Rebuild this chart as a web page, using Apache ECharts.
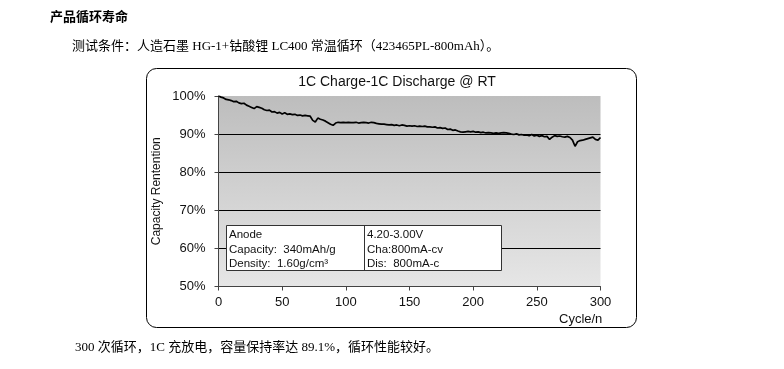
<!DOCTYPE html>
<html>
<head>
<meta charset="utf-8">
<script src="https://cdn.jsdelivr.net/npm/echarts@6/dist/echarts.min.js"></script>
<style>
html,body{margin:0;padding:0;background:#fff;}
#c{width:784px;height:369px;}
</style>
</head>
<body>
<div id="c"></div>
<script>
// ---- data ----
const cycles = [0,2,4,6,8,10,12,14,16,18,20,22,24,26,28,30,32,34,36,38,40,42,44,46,48,50,52,54,56,58,60,62,64,66,68,70,72,74,76,78,80,82,84,86,88,90,92,94,96,98,100,102,104,106,108,110,112,114,116,118,120,122,124,126,128,130,132,134,136,138,140,142,144,146,148,150,152,154,156,158,160,162,164,166,168,170,172,174,176,178,180,182,184,186,188,190,192,194,196,198,200,202,204,206,208,210,212,214,216,218,220,222,224,226,228,230,232,234,236,238,240,242,244,246,248,250,252,254,256,258,260,262,264,266,268,270,272,274,276,278,280,282,284,286,288,290,292,294,296,298,300];
const retention = [100.0,99.7,99.5,99.1,99.0,98.8,98.5,98.6,98.2,98.0,98.1,97.6,97.3,97.0,96.7,97.2,97.0,96.8,96.4,96.2,96.3,95.8,95.9,95.5,95.7,95.3,95.6,95.2,95.3,95.1,95.2,94.9,95.0,94.8,94.9,94.8,94.7,93.6,93.2,94.2,93.9,93.7,93.4,93.0,92.6,92.3,92.9,93.1,93.0,93.1,93.0,93.1,93.0,93.0,93.1,92.9,93.0,93.1,93.0,92.9,93.1,93.0,92.8,92.7,92.6,92.6,92.5,92.4,92.5,92.3,92.4,92.2,92.4,92.3,92.1,92.2,92.1,92.2,92.0,92.1,92.0,92.1,91.9,91.9,91.8,91.9,91.6,91.7,91.5,91.6,91.2,91.3,91.0,91.1,90.8,90.6,90.5,90.6,90.7,90.6,90.7,90.5,90.6,90.4,90.5,90.3,90.4,90.3,90.2,90.3,90.2,90.3,90.4,90.3,90.2,90.0,89.9,90.1,89.8,89.9,89.7,89.8,89.6,89.9,89.5,89.7,89.4,89.6,89.3,89.4,88.6,89.2,89.6,89.4,89.5,89.3,89.2,89.4,89.1,88.4,86.8,88.0,88.3,88.4,88.6,88.8,89.0,89.2,88.6,88.4,89.1];
const xTicks = {min: 0, max: 300, interval: 50};
const yTicks = {min: 50, max: 100, interval: 10};
const chartTitle = '1C Charge-1C Discharge @ RT';
const yName = 'Capacity Rentention';
const xName = 'Cycle/n';
const heading = '产品循环寿命';
const condition = '测试条件：人造石墨 HG-1+钴酸锂 LC400 常温循环（423465PL-800mAh）。';
const summary = '300 次循环，1C 充放电，容量保持率达 89.1%，循环性能较好。';
const boxLeft = ['Anode', 'Capacity:  340mAh/g', 'Density:  1.60g/cm³'];
const boxRight = ['4.20-3.00V', 'Cha:800mA-cv', 'Dis:  800mA-c'];

const seriesData = cycles.map((c, i) => [c, retention[i]]);

const chart = echarts.init(document.getElementById('c'), null, {renderer: 'canvas'});
const sansL = 'Liberation Sans, Arial, sans-serif';
const docFont = '"Liberation Serif", "Noto Sans CJK SC", serif';

const textLine = (x, y, arr) => arr.map((t, i) => ({
  type: 'text', left: x, top: y + i * 14.5, z: 101,
  style: {text: t, font: '11.5px ' + sansL, fill: '#111'}
}));

chart.setOption({
  animation: false,
  backgroundColor: '#fff',
  title: {
    text: chartTitle, left: 392, top: 70, textAlign: 'center',
    textStyle: {fontFamily: sansL, fontSize: 14, fontWeight: 'normal', color: '#111'}
  },
  grid: {
    left: 218.5, right: 183.5, top: 96, bottom: 82.5,
    show: true, borderWidth: 0,
    backgroundColor: new echarts.graphic.LinearGradient(0, 0, 0, 1, [
      {offset: 0, color: '#bdbdbd'}, {offset: 1, color: '#e6e6e6'}
    ])
  },
  xAxis: {
    type: 'value', min: xTicks.min, max: xTicks.max, interval: xTicks.interval,
    axisLine: {show: true, onZero: false, lineStyle: {color: '#444', width: 1}},
    axisTick: {show: true, length: 4, lineStyle: {color: '#444'}},
    splitLine: {show: false},
    axisLabel: {margin: 9, fontFamily: sansL, fontSize: 13, color: '#111'}
  },
  yAxis: {
    type: 'value', min: yTicks.min, max: yTicks.max, interval: yTicks.interval,
    name: yName, nameLocation: 'middle', nameGap: 56,
    nameTextStyle: {fontFamily: sansL, fontSize: 12, color: '#111'},
    axisLine: {show: true, lineStyle: {color: '#444', width: 1}},
    axisTick: {show: true, length: 4, lineStyle: {color: '#444'}},
    splitLine: {show: true, lineStyle: {color: ['rgba(0,0,0,0)', '#000', '#000', '#000', '#000', 'rgba(0,0,0,0)'], width: 1}},
    axisLabel: {margin: 13, fontFamily: sansL, fontSize: 13, color: '#111', formatter: '{value}%'}
  },
  series: [{
    type: 'line', data: seriesData, showSymbol: false, symbol: 'none',
    lineStyle: {color: '#000', width: 1.7}, z: 5
  }],
  graphic: [
    {type: 'rect', z: -1, shape: {x: 146.5, y: 68.5, width: 490, height: 259, r: 10},
     style: {fill: 'rgba(0,0,0,0)', stroke: '#000', lineWidth: 1}},
    {type: 'text', left: 50, top: 10, style: {text: heading, font: 'bold 13px "Noto Sans CJK SC", sans-serif', fill: '#000'}},
    {type: 'text', left: 72, top: 40, style: {text: condition, font: '13px ' + docFont, fill: '#000'}},
    {type: 'text', left: 75, top: 341, style: {text: summary, font: '13px ' + docFont, fill: '#000'}},
    {type: 'text', left: 559, top: 313, style: {text: xName, font: '13px ' + sansL, fill: '#111'}},
    {type: 'rect', z: 100, shape: {x: 226.5, y: 225.5, width: 275, height: 45},
     style: {fill: '#fff', stroke: '#333', lineWidth: 1}},
    {type: 'line', z: 101, shape: {x1: 364.5, y1: 225.5, x2: 364.5, y2: 270.5},
     style: {stroke: '#333', lineWidth: 1}},
    ...textLine(229, 229, boxLeft),
    ...textLine(367, 229, boxRight)
  ]
});
</script>
</body>
</html>
